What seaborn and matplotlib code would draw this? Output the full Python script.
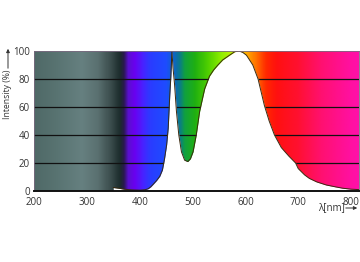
import numpy as np
import pandas as pd
import seaborn as sns
import matplotlib
matplotlib.use("Agg")
import matplotlib.pyplot as plt
from matplotlib.colors import LinearSegmentedColormap

# ---- data ----
wavelength_nm = [350, 360, 372, 385, 400, 410, 416, 421, 426, 432, 438, 443, 447, 451, 454,
                 457, 459, 461, 463, 466, 469.5, 474, 479, 485, 491, 496, 501, 507,
                 513.5, 523, 532, 540, 548, 557, 570, 580, 588, 595, 602, 614, 624, 636,
                 645, 655, 668, 682, 695, 700, 712, 721, 735, 753, 770, 784, 800, 815]
intensity_pct = [2.5, 2.0, 1.2, 0.8, 0.6, 0.9, 1.6, 3.0, 5.0, 7.5, 10.5, 15, 23, 33, 45,
                 69, 82, 100, 88, 76, 57, 40, 28, 22, 21, 23, 28, 40,
                 57, 73, 82, 86.5, 90, 93.6, 97, 99.5, 100, 99, 97, 90, 80, 61,
                 50, 40, 31, 25, 20, 16, 11.5, 9, 6.5, 4.3, 3, 2, 1.3, 1]
x_ticks = [200, 300, 400, 500, 600, 700, 800]
y_ticks = [0, 20, 40, 60, 80, 100]
y_label = "Intensity (%)"
x_label = "λ[nm]"

# spectral background colour stops (style)
stop_nm = [200, 240, 290, 320, 345, 362, 370, 378, 390, 405, 420, 450, 462, 475, 485,
           505, 530, 555, 575, 590, 602, 621, 640, 660, 700, 745, 800, 815]
stop_col = ["#4f6967", "#587371", "#668080", "#5a7070", "#3a4c4c", "#1c2c2c", "#2a1850",
            "#5a10d0", "#6a00f0", "#4a20ff", "#2a3cff", "#1e4cff", "#1060d0", "#0a7890",
            "#10a040", "#20b010", "#50d000", "#90ee00", "#c0f000", "#ffd000", "#ffb000",
            "#ff7000", "#ff2800", "#ff1010", "#ff1030", "#ff1070", "#ff10a0", "#ff10a8"]

XMIN, XMAX = 200, 815

sns.set_theme(style="white")
plt.rcParams["font.family"] = ["Open Sans", "DejaVu Sans"]

fig = plt.figure(figsize=(3.6, 2.62), dpi=100)
ax = fig.add_axes([34 / 360, 1 - 191 / 262, (359 - 34) / 360, (191 - 51) / 262])

# background spectrum
pos = [(s - XMIN) / (XMAX - XMIN) for s in stop_nm]
cmap = LinearSegmentedColormap.from_list("spec", list(zip(pos, stop_col)))
grad = np.linspace(0, 1, 800).reshape(1, -1)
ax.imshow(grad, extent=[XMIN, XMAX, 0, 100], aspect="auto", cmap=cmap,
          origin="lower", zorder=0, interpolation="bilinear")

for yv in y_ticks[1:-1]:
    ax.axhline(yv, color="#111111", lw=0.9, zorder=1)

df = pd.DataFrame({"nm": wavelength_nm, "pct": intensity_pct})
ax.fill_between(df["nm"], df["pct"], 0, color="white", zorder=2, lw=0)
sns.lineplot(data=df, x="nm", y="pct", ax=ax, color="#3a2a10", lw=0.7,
             sort=False, estimator=None, zorder=3)

ax.set_xlim(XMIN, XMAX)
ax.set_ylim(0, 100)
ax.set_xticks(x_ticks)
ax.set_yticks(y_ticks)
ax.tick_params(axis="both", length=0, labelsize=7, colors="#333333", pad=3)
ax.tick_params(axis="x", pad=4)
ax.set_xlabel("")
ax.set_ylabel("")
for side in ["top", "right", "left"]:
    ax.spines[side].set_color("#7a6a80")
    ax.spines[side].set_linewidth(0.6)
ax.spines["bottom"].set_color("#111111")
ax.spines["bottom"].set_linewidth(1.4)
for s in ax.spines.values():
    s.set_zorder(4)

# axis titles with arrows
fig.text(8 / 360, 1 - 94 / 262, y_label, rotation=90, ha="center", va="center",
         fontsize=6.2, color="#333333")
fig.add_artist(matplotlib.patches.FancyArrowPatch(
    (8 / 360, 1 - 71 / 262), (8 / 360, 1 - 46 / 262), transform=fig.transFigure,
    arrowstyle="-|>", mutation_scale=5, lw=0.7, color="#333333"))
fig.text(331 / 360, 1 - 208 / 262, x_label, ha="center", va="center",
         fontsize=7, color="#333333")
fig.add_artist(matplotlib.patches.FancyArrowPatch(
    (343 / 360, 1 - 208 / 262), (360 / 360, 1 - 208 / 262), transform=fig.transFigure,
    arrowstyle="-|>", mutation_scale=5, lw=0.7, color="#333333"))

fig.savefig("out.png", dpi=100)
